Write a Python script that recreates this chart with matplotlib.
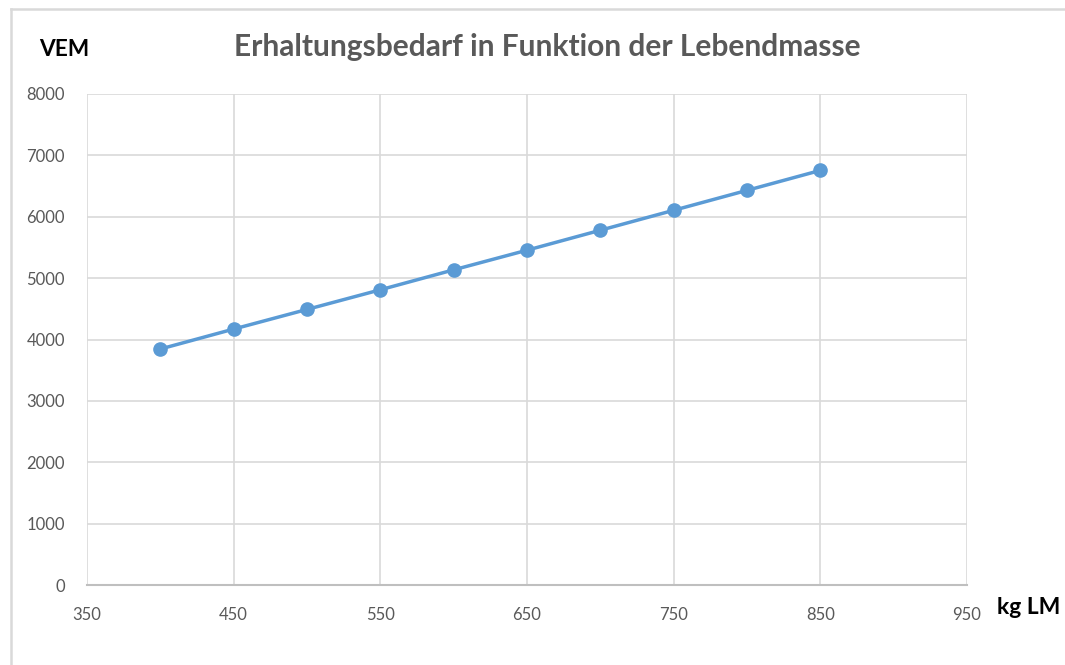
import matplotlib
matplotlib.use("Agg")
import matplotlib.pyplot as plt
from matplotlib.lines import Line2D

# Live mass (kg) and maintenance requirement (VEM)
lebendmasse = [400, 450, 500, 550, 600, 650, 700, 750, 800, 850]
vem = [3845, 4170, 4490, 4810, 5135, 5455, 5780, 6105, 6430, 6755]

x_ticks = [350, 450, 550, 650, 750, 850, 950]
y_ticks = [0, 1000, 2000, 3000, 4000, 5000, 6000, 7000, 8000]

title = "Erhaltungsbedarf in Funktion der Lebendmasse"
y_label = "VEM"
x_label = "kg LM"

plt.rcParams["font.family"] = ["Lato", "DejaVu Sans"]

W, H = 1065, 665
fig = plt.figure(figsize=(W / 100, H / 100), dpi=100)
ax = fig.add_axes([87 / W, 1 - 585 / H, (967 - 87) / W, (585 - 94) / H])

ax.plot(lebendmasse, vem, color="#5b9bd5", linewidth=2.5, marker="o",
        markersize=9.5, markerfacecolor="#5b9bd5", markeredgecolor="#5b9bd5",
        zorder=3, clip_on=False)

ax.set_xlim(350, 950)
ax.set_ylim(0, 8000)
ax.set_xticks(x_ticks)
ax.set_yticks(y_ticks)
ax.grid(True, color="#d9d9d9", linewidth=1.2, zorder=0)
ax.set_axisbelow(True)
for side in ("top", "right", "left"):
    ax.spines[side].set_visible(False)
ax.spines["bottom"].set_color("#bfbfbf")
ax.spines["bottom"].set_linewidth(1.5)
ax.tick_params(axis="both", length=0, labelcolor="#595959", labelsize=12)
ax.tick_params(axis="x", pad=16)
ax.tick_params(axis="y", pad=16)

fig.text(547 / W, 1 - 47 / H, title, ha="center", va="center",
         fontsize=21.5, fontweight="bold", color="#595959")
fig.text(64 / W, 1 - 50 / H, y_label, ha="center", va="center",
         fontsize=16.3, fontweight="bold", color="black")
fig.text(1029 / W, 1 - 608 / H, x_label, ha="center", va="center",
         fontsize=16.5, fontweight="bold", color="black")

# chart area frame (top and left edges)
fig.add_artist(Line2D([11 / W, 1.0], [1 - 9 / H, 1 - 9 / H],
                      transform=fig.transFigure, color="#d9d9d9", linewidth=1.8))
fig.add_artist(Line2D([11 / W, 11 / W], [0.0, 1 - 9 / H],
                      transform=fig.transFigure, color="#d9d9d9", linewidth=1.8))

fig.savefig("out.png", dpi=100, facecolor="white")
